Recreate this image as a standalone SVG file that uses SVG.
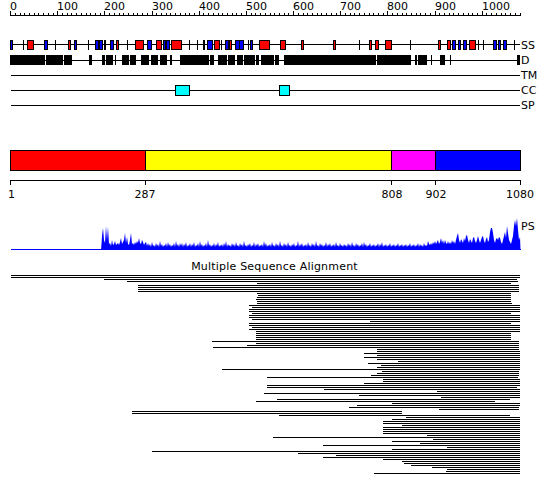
<svg xmlns="http://www.w3.org/2000/svg" width="550" height="495" viewBox="0 0 550 495">
<style>
text{font-family:"DejaVu Sans","Liberation Sans",sans-serif;font-size:11px;fill:#000}
.ln{stroke:#000;stroke-width:1;fill:none}
.h{fill:#f00;stroke:#000;stroke-width:1}
.e{fill:#00f;stroke:#000;stroke-width:1}
.d{fill:#000}
.cc{fill:#0ff;stroke:#000;stroke-width:1}
.mid{text-anchor:middle}
</style>
<rect width="550" height="495" fill="#fff"/>
<g id="ruler" shape-rendering="crispEdges">
<path class="ln" d="M10.5 15.5H520.5M10.5 11V16M57.5 11V16M104.5 11V16M152.5 11V16M199.5 11V16M246.5 11V16M293.5 11V16M340.5 11V16M387.5 11V16M435.5 11V16M482.5 11V16M15.5 13V16M20.5 13V16M24.5 13V16M29.5 13V16M34.5 13V16M38.5 13V16M43.5 13V16M48.5 13V16M53.5 13V16M62.5 13V16M67.5 13V16M71.5 13V16M76.5 13V16M81.5 13V16M86.5 13V16M90.5 13V16M95.5 13V16M100.5 13V16M109.5 13V16M114.5 13V16M119.5 13V16M123.5 13V16M128.5 13V16M133.5 13V16M137.5 13V16M142.5 13V16M147.5 13V16M156.5 13V16M161.5 13V16M166.5 13V16M170.5 13V16M175.5 13V16M180.5 13V16M185.5 13V16M189.5 13V16M194.5 13V16M203.5 13V16M208.5 13V16M213.5 13V16M218.5 13V16M222.5 13V16M227.5 13V16M232.5 13V16M236.5 13V16M241.5 13V16M251.5 13V16M255.5 13V16M260.5 13V16M265.5 13V16M270.5 13V16M274.5 13V16M279.5 13V16M284.5 13V16M288.5 13V16M298.5 13V16M303.5 13V16M307.5 13V16M312.5 13V16M317.5 13V16M321.5 13V16M326.5 13V16M331.5 13V16M336.5 13V16M345.5 13V16M350.5 13V16M354.5 13V16M359.5 13V16M364.5 13V16M369.5 13V16M373.5 13V16M378.5 13V16M383.5 13V16M392.5 13V16M397.5 13V16M402.5 13V16M406.5 13V16M411.5 13V16M416.5 13V16M420.5 13V16M425.5 13V16M430.5 13V16M439.5 13V16M444.5 13V16M449.5 13V16M453.5 13V16M458.5 13V16M463.5 13V16M468.5 13V16M472.5 13V16M477.5 13V16M486.5 13V16M491.5 13V16M496.5 13V16M501.5 13V16M505.5 13V16M510.5 13V16M515.5 13V16M520.5 13V16"/>
<text x="10" y="10">0</text><text x="57" y="10">100</text><text x="104" y="10">200</text><text x="152" y="10">300</text><text x="199" y="10">400</text><text x="246" y="10">500</text><text x="293" y="10">600</text><text x="340" y="10">700</text><text x="387" y="10">800</text><text x="435" y="10">900</text><text x="482" y="10">1000</text>
</g>
<g id="track-SS" shape-rendering="crispEdges">
<path class="ln" d="M10.5 44.5H520"/>
<path class="ln" d="M23.5 40V50M55.5 40V50M88.5 40V50M127.5 40V50M189.5 40V50M197.5 40V50M221.5 40V50M248.5 40V50M359.5 40V50M410.5 40V50M478.5 40V50M483.5 40V50M514.5 40V50"/>
<rect class="d" x="104" y="40" width="2" height="10"/>
<g class="e">
<rect x="10.5" y="40.5" width="2" height="9"/><rect x="44.5" y="40.5" width="3" height="9"/><rect x="74.5" y="40.5" width="2" height="9"/><rect x="95.5" y="40.5" width="3" height="9"/><rect x="99.5" y="40.5" width="3" height="9"/><rect x="110.5" y="40.5" width="3" height="9"/><rect x="147.5" y="40.5" width="4" height="9"/><rect x="163.5" y="40.5" width="2" height="9"/><rect x="166.5" y="40.5" width="3" height="9"/><rect x="207.5" y="40.5" width="5" height="9"/><rect x="225.5" y="40.5" width="3" height="9"/><rect x="235.5" y="40.5" width="4" height="9"/><rect x="239.5" y="40.5" width="4" height="9"/><rect x="250.5" y="40.5" width="2" height="9"/><rect x="452.5" y="40.5" width="3" height="9"/><rect x="458.5" y="40.5" width="2" height="9"/><rect x="463.5" y="40.5" width="3" height="9"/><rect x="493.5" y="40.5" width="3" height="9"/><rect x="498.5" y="40.5" width="2" height="9"/><rect x="503.5" y="40.5" width="3" height="9"/>
</g>
<g class="h">
<rect x="27.5" y="40.5" width="6" height="9"/><rect x="68.5" y="40.5" width="2" height="9"/><rect x="116.5" y="40.5" width="2" height="9"/><rect x="135.5" y="40.5" width="8" height="9"/><rect x="156.5" y="40.5" width="5" height="9"/><rect x="171.5" y="40.5" width="10" height="9"/><rect x="203.5" y="40.5" width="1" height="9"/><rect x="214.5" y="40.5" width="5" height="9"/><rect x="229.5" y="40.5" width="2" height="9"/><rect x="259.5" y="40.5" width="10" height="9"/><rect x="280.5" y="40.5" width="5" height="9"/><rect x="301.5" y="40.5" width="2" height="9"/><rect x="333.5" y="40.5" width="2" height="9"/><rect x="369.5" y="40.5" width="2" height="9"/><rect x="375.5" y="40.5" width="3" height="9"/><rect x="385.5" y="40.5" width="6" height="9"/><rect x="438.5" y="40.5" width="2" height="9"/><rect x="447.5" y="40.5" width="3" height="9"/><rect x="469.5" y="40.5" width="6" height="9"/>
</g>
<text x="521" y="49">SS</text>
</g>
<g id="track-D" shape-rendering="crispEdges">
<path class="ln" d="M10.5 60.5H520M115.5 55V65M431.5 55V65"/>
<path class="d" d="M10 55H45V65H10ZM46 55H62.5V65H46ZM64 55H72V65H64ZM89 55H92V65H89ZM102 55H105V65H102ZM106 55H113V65H106ZM121.5 55H128.5V65H121.5ZM129.5 55H136V65H129.5ZM141 55H148.5V65H141ZM150.5 55H157.5V65H150.5ZM160 55H167V65H160ZM169.5 55H171.5V65H169.5ZM180 55H208.5V65H180ZM210 55H213.5V65H210ZM218 55H227V65H218ZM228 55H235V65H228ZM236.5 55H243V65H236.5ZM244 55H255V65H244ZM256 55H258.5V65H256ZM261 55H273.5V65H261ZM275 55H278.5V65H275ZM284 55H376V65H284ZM377 55H411V65H377ZM415 55H416.5V65H415ZM418 55H427V65H418ZM440 55H444.5V65H440ZM450 55H451V65H450ZM517 55H520V65H517Z"/>
<text x="521" y="64">D</text>
</g>
<g id="track-TM" shape-rendering="crispEdges">
<path class="ln" d="M10.5 75.5H520"/>
<text x="521" y="79">TM</text>
</g>
<g id="track-CC" shape-rendering="crispEdges">
<path class="ln" d="M10.5 90.5H520"/>
<rect class="cc" x="175.5" y="85.5" width="14" height="10"/>
<rect class="cc" x="279.5" y="85.5" width="10" height="10"/>
<text x="521" y="94">CC</text>
</g>
<g id="track-SP" shape-rendering="crispEdges">
<path class="ln" d="M10.5 105.5H520"/>
<text x="521" y="109">SP</text>
</g>
<g id="domains" shape-rendering="crispEdges">
<rect x="10.5" y="150.5" width="135" height="20" fill="#f00" stroke="#000"/>
<rect x="145.5" y="150.5" width="246" height="20" fill="#ff0" stroke="#000"/>
<rect x="391.5" y="150.5" width="44" height="20" fill="#f0f" stroke="#000"/>
<rect x="435.5" y="150.5" width="85" height="20" fill="#00f" stroke="#000"/>
</g>
<g id="domain-ruler" shape-rendering="crispEdges">
<path class="ln" d="M10.5 180.5H520.5M10.5 180V185M145.5 180V185M391.5 180V185M435.5 180V185M520.5 180V185"/>
<text class="mid" x="11.5" y="198">1</text><text class="mid" x="145" y="198">287</text><text class="mid" x="392" y="198">808</text><text class="mid" x="436" y="198">902</text><text class="mid" x="520" y="198">1080</text>
</g>
<g id="track-PS">
<path fill="#00f" d="M101 250L101.5 244L102 236L103 228L104 240L105 243L106 226L107 240L108 227L109 244L110 243L111 246L112 240L113 245L114 244L115 241L116 245L117 244L118 243L119 245L120 242L121 238L122 244L123 242L124 240L125 233L126 243L127 237L128 244L129 245L130 240L131 233L132 244L133 243L134 245L135 242L136 244L137 241L138 243L139 238L140 243L141 244L142 240L143 242L144 245L145 243L146 242L147 246L148 243L149 246L150 244L151 247L152 242L153 246L154 245L155 247L156 243L157 246L158 244L159 247L160 241L161 246L162 244L163 247L164 245L165 246L166 243L167 247L168 242L169 246L170 244L171 247L172 245L173 246L174 243L175 247L176 241L177 246L178 244L179 247L180 243L181 246L182 243L183 247L184 244L185 246L186 242L187 247L188 245L189 246L190 243L191 247L192 244L193 246L194 242L195 247L196 245L197 246L198 243L199 247L200 241L201 246L202 244L203 247L204 245L205 246L206 243L207 247L208 240L209 246L210 244L211 247L212 245L213 246L214 243L215 247L216 244L217 246L218 242L219 247L220 245L221 246L222 244L223 247L224 243L225 246L226 241L227 247L228 244L229 246L230 245L231 247L232 243L233 246L234 244L235 247L236 242L237 246L238 245L239 247L240 243L241 246L242 244L243 247L244 241L245 246L246 245L247 247L248 244L249 246L250 243L251 247L252 245L253 246L254 242L255 247L256 244L257 246L258 243L259 247L260 245L261 246L262 244L263 247L264 241L265 246L266 243L267 247L268 245L269 246L270 244L271 247L272 242L273 246L274 245L275 247L276 243L277 246L278 244L279 247L280 241L281 246L282 245L283 247L284 243L285 246L286 244L287 247L288 242L289 246L290 245L291 247L292 244L293 246L294 243L295 247L296 245L297 246L298 241L299 247L300 244L301 246L302 243L303 247L304 245L305 246L306 244L307 247L308 242L309 246L310 245L311 247L312 243L313 246L314 244L315 247L316 241L317 246L318 245L319 247L320 243L321 246L322 244L323 247L324 245L325 246L326 242L327 247L328 244L329 246L330 243L331 247L332 245L333 246L334 244L335 247L336 242L337 246L338 245L339 247L340 243L341 246L342 245L343 247L344 244L345 246L346 245L347 247L348 243L349 246L350 244L351 247L352 242L353 246L354 245L355 247L356 243L357 246L358 244L359 247L360 245L361 246L362 243L363 247L364 242L365 246L366 244L367 247L368 245L369 246L370 243L371 247L372 245L373 246L374 244L375 247L376 245L377 246L378 243L379 247L380 244L381 246L382 242L383 247L384 245L385 246L386 244L387 247L388 245L389 246L390 243L391 247L392 245L393 246L394 244L395 247L396 245L397 246L398 243L399 247L400 245L401 246L402 244L403 247L404 245L405 246L406 244L407 247L408 245L409 246L410 243L411 247L412 245L413 246L414 244L415 247L416 245L417 246L418 243L419 247L420 244L421 246L422 245L423 247L424 243L425 246L426 245L427 246L428 241L429 244L430 245L431 243L432 245L433 242L434 244L435 241L436 244L437 242L438 240L439 244L440 242L441 238L442 243L443 240L444 244L445 240L446 243L447 244L448 241L449 244L450 242L451 244L452 240L453 243L454 241L455 244L456 240L457 236L458 233L459 240L460 243L461 239L462 241L463 243L464 238L465 241L466 236L467 235L468 240L469 243L470 239L471 241L472 243L473 238L474 237L475 241L476 243L477 240L478 236L479 240L480 243L481 240L482 237L483 236L484 241L485 243L486 239L487 237L488 242L489 240L490 232L491 228L492 228L493 233L494 240L495 243L496 239L497 238L498 240L499 237L500 238L501 242L502 244L503 240L504 236L505 232L506 238L507 226L508 233L509 240L510 242L511 244L512 240L513 236L514 226L515 220L516 226L517 218L518 230L519 240L520 237L520.5 250Z"/>
<path d="M11 249.5H521" stroke="#00f" stroke-width="1" shape-rendering="crispEdges"/>
<text x="521" y="230">PS</text>
</g>
<g id="msa">
<text class="mid" x="274.5" y="270" letter-spacing="0.2">Multiple Sequence Alignment</text>
<path class="ln" shape-rendering="crispEdges" d="M11 275.5H520M11 277.5H520M104 279.5H517M127 281.5H518M257 283.5H511M138 285.5H519M138 287.5H519M138 289.5H519M138 291.5H519M257 293.5H511M258 295.5H511M257 297.5H511M256 299.5H511M257 301.5H511M257 303.5H512M249 305.5H520M252 307.5H520M249 309.5H520M249 311.5H520M252 313.5H511M249 315.5H520M249 317.5H520M252 319.5H520M370 321.5H520M249 323.5H511M249 325.5H520M252 327.5H520M249 329.5H520M256 331.5H520M256 333.5H511M256 335.5H511M256 337.5H511M256 339.5H511M212 341.5H519M256 343.5H519M247 345.5H519M213 347.5H519M377 349.5H519M377 351.5H520M364 353.5H520M377 355.5H520M364 357.5H520M377 359.5H520M398 361.5H520M368 363.5H520M381 365.5H520M377 367.5H520M222 369.5H520M382 371.5H519M377 373.5H519M371 375.5H519M267 377.5H518M383 379.5H520M383 381.5H520M364 383.5H520M267 385.5H520M267 387.5H517M324 389.5H520M437 391.5H520M264 393.5H520M359 395.5H520M441 397.5H520M277 399.5H510M256 401.5H495M392 403.5H520M357 405.5H520M349 407.5H519M439 409.5H519M132 411.5H402M132 413.5H402M279 415.5H510M406 417.5H520M392 419.5H520M383 421.5H520M383 423.5H520M402 425.5H520M383 427.5H520M383 429.5H520M383 431.5H520M383 433.5H520M427 435.5H520M273 437.5H520M433 439.5H520M392 441.5H520M420 443.5H520M323 445.5H520M447 447.5H520M392 449.5H520M152 451.5H520M298 453.5H520M336 455.5H520M323 457.5H520M383 459.5H520M402 461.5H520M404 463.5H520M411 465.5H520M432 467.5H520M447 469.5H520M446 471.5H520M374 473.5H520"/>
</g>
</svg>
